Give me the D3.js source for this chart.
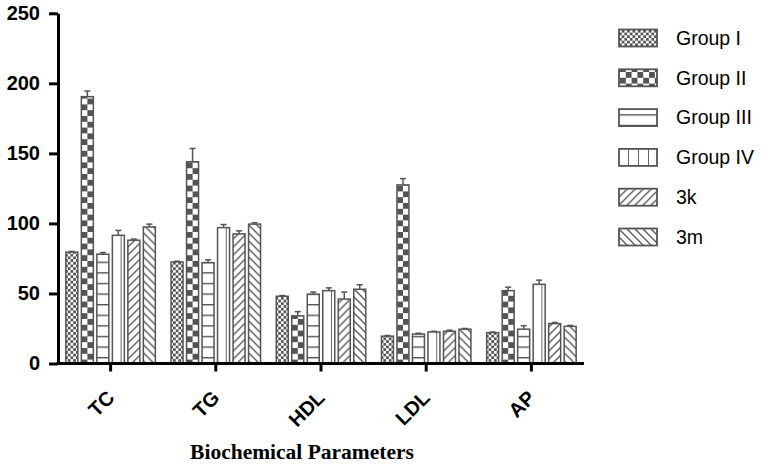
<!DOCTYPE html>
<html>
<head>
<meta charset="utf-8">
<script src="https://cdn.jsdelivr.net/npm/d3@7"></script>
<style>
  html, body { margin: 0; padding: 0; background: #fff; }
  svg { display: block; }
</style>
</head>
<body>
<svg id="chart" width="765" height="470"></svg>
<script>
// ---- data ----
const categories = ["TC", "TG", "HDL", "LDL", "AP"];
const seriesNames = ["Group I", "Group II", "Group III", "Group IV", "3k", "3m"];
const groupI   = [79.5, 72.5, 48, 19.5, 22];
const groupII  = [190.5, 144, 34, 127.5, 52];
const groupIII = [78, 72, 49.5, 21, 24.5];
const groupIV  = [91.5, 97, 52, 22.5, 56.5];
const k3       = [88, 92.5, 46, 23, 28.5];
const m3       = [97.5, 99.5, 53, 24.5, 26.5];
const errI   = [0.5, 0.5, 0.5, 0.5, 0.5];
const errII  = [4, 9.5, 3, 4.5, 2.5];
const errIII = [1.2, 2, 1.5, 0.6, 2.5];
const errIV  = [3.5, 2.2, 2, 0.5, 3];
const err3k  = [0.8, 2.2, 5, 0.8, 0.8];
const err3m  = [2, 1, 3.2, 0.5, 0.7];
const yTicks = [0, 50, 100, 150, 200, 250];
const xTitle = "Biochemical Parameters";

const seriesValues = [groupI, groupII, groupIII, groupIV, k3, m3];
const seriesErrors = [errI, errII, errIII, errIV, err3k, err3m];

// ---- layout ----
const svg = d3.select("#chart");
const gray = "#545454";
const x0 = d3.scaleBand().domain(categories).range([58, 584]).padding(0);
const groupW = 91;
const x1 = d3.scaleBand().domain(seriesNames).range([0, groupW]).paddingInner(0.13);
const y = d3.scaleLinear().domain([0, 250]).range([363.5, 13.3]);

// ---- patterns ----
const defs = svg.append("defs");
const patIds = ["pI", "pII", "pIII", "pIV", "p3k", "p3m"];
(function(){
  const p = defs.append("pattern").attr("id", "pI").attr("patternUnits", "userSpaceOnUse")
    .attr("width", 5.4).attr("height", 5.4);
  p.append("rect").attr("width", 5.4).attr("height", 5.4).attr("fill", "#fff");
  p.append("rect").attr("width", 2.7).attr("height", 2.7).attr("fill", gray);
  p.append("rect").attr("x", 2.7).attr("y", 2.7).attr("width", 2.7).attr("height", 2.7).attr("fill", gray);
})();
(function(){
  const s = 5.8;
  const p = defs.append("pattern").attr("id", "pII").attr("patternUnits", "userSpaceOnUse")
    .attr("width", 2*s).attr("height", 2*s).attr("x", 1);
  p.append("rect").attr("width", 2*s).attr("height", 2*s).attr("fill", "#fff");
  p.append("rect").attr("width", s).attr("height", s).attr("fill", gray);
  p.append("rect").attr("x", s).attr("y", s).attr("width", s).attr("height", s).attr("fill", gray);
})();
(function(){
  const p = defs.append("pattern").attr("id", "pIII").attr("patternUnits", "userSpaceOnUse")
    .attr("width", 10).attr("height", 10.6).attr("y", 363.5 - 6.5);
  p.append("rect").attr("width", 10).attr("height", 10.6).attr("fill", "#fff");
  p.append("line").attr("x1", 0).attr("x2", 10).attr("y1", 0.7).attr("y2", 0.7)
    .attr("stroke", gray).attr("stroke-width", 1.4);
})();
(function(){
  const p = defs.append("pattern").attr("id", "pIV").attr("patternUnits", "userSpaceOnUse")
    .attr("width", 10).attr("height", 10);
  p.append("rect").attr("width", 10).attr("height", 10).attr("fill", "#fff");
  p.append("line").attr("x1", 9.8).attr("x2", 9.8).attr("y1", 0).attr("y2", 10)
    .attr("stroke", gray).attr("stroke-width", 1.4);
})();
(function(){
  const w = 8;
  const p = defs.append("pattern").attr("id", "p3k").attr("patternUnits", "userSpaceOnUse")
    .attr("width", w).attr("height", w);
  p.append("rect").attr("width", w).attr("height", w).attr("fill", "#fff");
  p.append("path").attr("d", `M0,${w} L${w},0 M${-w/2},${w/2} L${w/2},${-w/2} M${w/2},${w*1.5} L${w*1.5},${w/2}`)
    .attr("stroke", gray).attr("stroke-width", 1.3);
})();
(function(){
  const w = 8;
  const p = defs.append("pattern").attr("id", "p3m").attr("patternUnits", "userSpaceOnUse")
    .attr("width", w).attr("height", w);
  p.append("rect").attr("width", w).attr("height", w).attr("fill", "#fff");
  p.append("path").attr("d", `M0,0 L${w},${w} M${-w/2},${w/2} L${w/2},${w*1.5} M${w/2},${-w/2} L${w*1.5},${w/2}`)
    .attr("stroke", gray).attr("stroke-width", 1.3);
})();

// ---- bars ----
const bars = [];
categories.forEach((c, ci) => {
  seriesNames.forEach((s, si) => {
    bars.push({cat: c, ser: s, si, v: seriesValues[si][ci], e: seriesErrors[si][ci]});
  });
});
const offset = (x0.bandwidth() - groupW) / 2;
const bw = x1.bandwidth();

const barG = svg.append("g").selectAll("g.bar").data(bars).join("g")
  .attr("class", "bar")
  .attr("transform", d => `translate(${x0(d.cat) + offset + x1(d.ser)},0)`);

barG.append("line")
  .attr("x1", bw/2).attr("x2", bw/2)
  .attr("y1", d => y(d.v)).attr("y2", d => y(d.v + d.e))
  .attr("stroke", gray).attr("stroke-width", 1.5);
barG.append("line")
  .attr("x1", bw/2 - 3).attr("x2", bw/2 + 3)
  .attr("y1", d => y(d.v + d.e)).attr("y2", d => y(d.v + d.e))
  .attr("stroke", gray).attr("stroke-width", 1.5);

barG.append("rect")
  .attr("x", 0.75)
  .attr("y", d => y(d.v))
  .attr("width", bw - 1.5)
  .attr("height", d => y(0) - y(d.v))
  .attr("fill", d => `url(#${patIds[d.si]})`)
  .attr("stroke", gray).attr("stroke-width", 1.5);

// ---- axes ----
const yAxis = svg.append("g")
  .attr("transform", "translate(58,0)")
  .call(d3.axisLeft(y).tickValues(yTicks).tickSize(9).tickSizeOuter(0).tickPadding(9));
yAxis.select(".domain").attr("stroke", "#000").attr("stroke-width", 3);
yAxis.selectAll(".tick line").attr("stroke", "#000").attr("stroke-width", 3);
yAxis.selectAll(".tick text")
  .attr("font-family", "Liberation Sans, Arial, sans-serif")
  .attr("font-weight", "bold").attr("font-size", 20).attr("fill", "#000");

const xAxis = svg.append("g")
  .attr("transform", `translate(0,${y(0)})`)
  .call(d3.axisBottom(x0).tickSize(8).tickSizeOuter(0).tickFormat(""));
xAxis.select(".domain").attr("stroke", "#000").attr("stroke-width", 3)
  .attr("d", `M56.5,0H584`);
xAxis.selectAll(".tick line").attr("stroke", "#000").attr("stroke-width", 3);

svg.append("g").selectAll("text").data(categories).join("text")
  .attr("transform", d => `translate(${x0(d) + x0.bandwidth()/2 + 5},399) rotate(-45)`)
  .attr("text-anchor", "end")
  .attr("font-family", "Liberation Sans, Arial, sans-serif")
  .attr("font-weight", "bold").attr("font-size", 20)
  .text(d => d);

svg.append("text")
  .attr("x", 302).attr("y", 459)
  .attr("text-anchor", "middle")
  .attr("font-family", "Liberation Serif, Times New Roman, serif")
  .attr("font-weight", "bold").attr("font-size", 21.5)
  .text(xTitle);

// ---- legend ----
const leg = svg.append("g").selectAll("g").data(seriesNames).join("g")
  .attr("transform", (d, i) => `translate(619,${38 + i * 39.8})`);
leg.append("rect")
  .attr("x", 0).attr("y", -8.5).attr("width", 38).attr("height", 17)
  .attr("fill", (d, i) => `url(#${patIds[i]})`)
  .attr("stroke", gray).attr("stroke-width", 1.8);
leg.append("text")
  .attr("x", 57).attr("y", 0).attr("dy", "0.35em")
  .attr("font-family", "Liberation Sans, Arial, sans-serif")
  .attr("font-size", 19.5).attr("fill", "#000")
  .text(d => d);
</script>
</body>
</html>
